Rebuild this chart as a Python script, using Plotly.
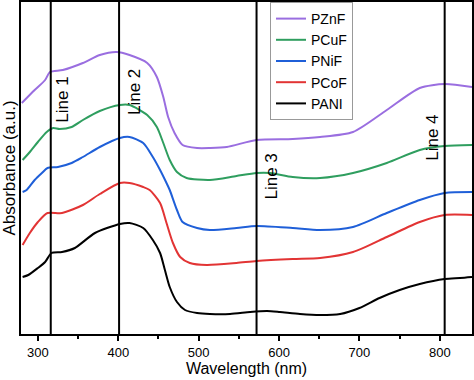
import plotly.graph_objects as go

# Data (arbitrary absorbance units, offset stacks)
wl_pzn = [280, 296, 309, 315, 331, 356, 377, 398, 414, 436, 448, 456, 462, 470, 480, 498, 514, 535, 572, 617, 651, 692, 734, 775, 806, 840]
pznf = [231, 244, 254, 262, 264, 271, 279, 282, 279, 271, 257, 237, 217, 201, 189, 186, 186, 187, 194, 195, 197, 202, 224, 246, 250, 247]

wl_cu = [281, 290, 300, 311, 319, 327, 342, 356, 377, 402, 414, 436, 448, 456, 464, 473, 485, 514, 547, 572, 589, 617, 651, 692, 734, 775, 806, 840]
pcuf = [174, 182, 192, 202, 206, 205, 207, 214, 223, 229, 229, 219, 207, 191, 174, 162, 156, 154, 158, 161, 161, 157, 156, 161, 171, 184, 188, 189]

wl_ni = [281, 286, 296, 305, 312, 325, 342, 356, 377, 402, 414, 431, 443, 452, 460, 464, 473, 480, 498, 514, 547, 572, 617, 651, 692, 734, 775, 806, 840]
pnif = [142, 144, 154, 161, 166, 167, 171, 177, 187, 196, 197, 191, 177, 164, 151, 144, 124, 112, 106, 104, 106, 108, 106, 104, 107, 121, 134, 141, 142]

wl_co = [281, 290, 300, 312, 330, 356, 377, 402, 414, 431, 439, 452, 460, 468, 477, 489, 510, 547, 572, 617, 651, 692, 734, 775, 806, 840]
pcof = [89, 101, 112, 121, 121, 129, 140, 151, 151, 147, 144, 131, 111, 91, 77, 71, 69, 71, 73, 75, 76, 82, 97, 112, 119, 119]

wl_pani = [281, 288, 300, 309, 317, 330, 346, 371, 402, 414, 431, 443, 452, 458, 464, 473, 483, 498, 514, 539, 564, 585, 601, 626, 651, 676, 700, 725, 750, 775, 806, 825, 840]
pani = [57, 59, 66, 72, 81, 82, 86, 101, 110, 111, 106, 94, 81, 64, 47, 32, 24, 21, 20, 20, 22, 23, 22, 20, 19, 20, 26, 36, 44, 50, 55, 56, 57]

series_names = ["PZnF", "PCuF", "PNiF", "PCoF", "PANI"]
series_x = [wl_pzn, wl_cu, wl_ni, wl_co, wl_pani]
series_y = [pznf, pcuf, pnif, pcof, pani]
series_colors = ["#9a6ee0", "#2f9e5f", "#1f5fd8", "#e23434", "#000000"]

ref_lines = [316, 401, 572, 806]
ref_labels = ["Line 1", "Line 2", "Line 3", "Line 4"]
ref_label_y = [0.705, 0.729, 0.473, 0.59]
ref_label_dx = [12, 16, 15, -13]

tick_vals = [300, 400, 500, 600, 700, 800]

fig = go.Figure()
for name, xs, ys, c in zip(series_names, series_x, series_y, series_colors):
    fig.add_trace(go.Scatter(x=xs, y=ys, mode="lines", name=name,
                             line=dict(color=c, width=2, shape="spline", smoothing=0.7)))

for xv in ref_lines:
    fig.add_shape(type="line", xref="x", yref="paper", x0=xv, x1=xv, y0=0, y1=1,
                  line=dict(color="black", width=2))

for xv, lab, yv, dx in zip(ref_lines, ref_labels, ref_label_y, ref_label_dx):
    fig.add_annotation(x=xv, y=yv, xref="x", yref="paper", text=lab, textangle=-90,
                       xanchor="center", yanchor="middle",
                       showarrow=False, xshift=dx, font=dict(size=17, color="black"))

fig.update_layout(
    width=474, height=380,
    margin=dict(l=21, r=2, t=2, b=46),
    paper_bgcolor="white", plot_bgcolor="white",
    font=dict(family="Liberation Sans, Arial, sans-serif", color="black"),
    showlegend=True,
    legend=dict(x=(270 - 21) / 451, y=1, xanchor="left", yanchor="top",
                bgcolor="white", bordercolor="#999999", borderwidth=1,
                font=dict(size=14), tracegroupgap=0, itemwidth=30),
    xaxis=dict(range=[279, 840], tickvals=tick_vals, ticks="outside", ticklen=5,
               tickwidth=1.5, tickcolor="black", showline=True, linecolor="black",
               linewidth=2, mirror=True, showgrid=False, zeroline=False,
               tickfont=dict(size=13), automargin=False,
               minor=dict(dtick=50, tick0=300, ticks="outside", ticklen=3, tickcolor="black", showgrid=False),
               title=dict(text="Wavelength (nm)", font=dict(size=16), standoff=2)),
    yaxis=dict(range=[0, 332], showticklabels=False, ticks="", showline=True,
               linecolor="black", linewidth=2, mirror=True, showgrid=False, zeroline=False,
               automargin=False,
               title=dict(text="Absorbance (a.u.)", font=dict(size=17), standoff=3)),
)

fig.write_html("out.html", config={"displayModeBar": False},
               post_script="document.body.style.margin='0';document.body.style.overflow='hidden';")
